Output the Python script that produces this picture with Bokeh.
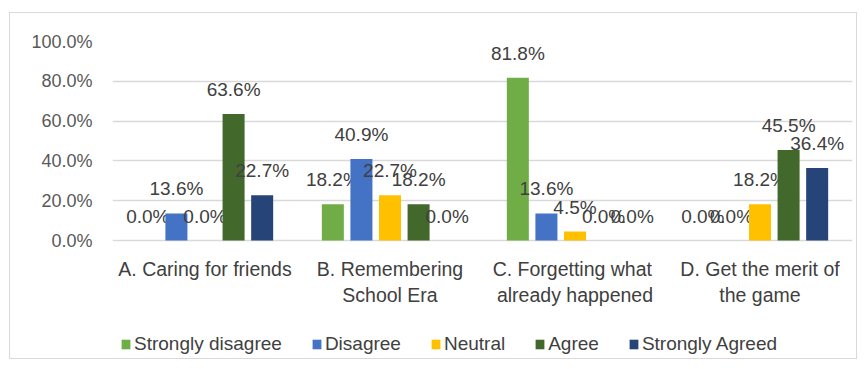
from bokeh.plotting import figure
from bokeh.models import (ColumnDataSource, Legend, LegendItem, FixedTicker,
                          NumeralTickFormatter, Range1d)
from bokeh.core.properties import value
from bokeh.embed import file_html
from bokeh.resources import INLINE

categories = ["A. Caring for friends", "B. Remembering\nSchool Era",
              "C.  Forgetting what\nalready happened", "D. Get the merit of\nthe game"]
series = ["Strongly disagree", "Disagree", "Neutral", "Agree", "Strongly Agreed"]
strongly_disagree = [0.0, 0.182, 0.818, 0.0]
disagree = [0.136, 0.409, 0.136, 0.0]
neutral = [0.0, 0.227, 0.045, 0.182]
agree = [0.636, 0.182, 0.0, 0.455]
strongly_agreed = [0.227, 0.0, 0.0, 0.364]
y_ticks = [0.0, 0.2, 0.4, 0.6, 0.8, 1.0]
colors = ["#70AD47", "#4472C4", "#FFC000", "#43682B", "#264478"]

FONT = "Liberation Sans"
TEXT = "#404040"

# frame extends down to hold category labels and legend; 0 sits 199px below top
FRAME_H = 317
PX_PER_UNIT = 199
p = figure(width=846, height=345, output_backend="svg", toolbar_location=None,
           x_range=Range1d(0, 4),
           y_range=Range1d(1.0 - FRAME_H / PX_PER_UNIT, 1.0),
           min_border_left=102, min_border_right=4, min_border_top=28,
           min_border_bottom=0, outline_line_color=None,
           background_fill_color="white", border_fill_color="white")
p.styles = {"margin-left": "10px", "margin-top": "13px",
            "outline": "1.5px solid #D9D9D9"}

values = [strongly_disagree, disagree, neutral, agree, strongly_agreed]
step = 0.1545
bw = 0.119
items = []
for k, (name, vals, col) in enumerate(zip(series, values, colors)):
    xs = [i + 0.5 + (k - 2) * step for i in range(len(categories))]
    src = ColumnDataSource(dict(x=xs, top=vals,
                                lab=["%.1f%%" % (v * 100) for v in vals]))
    r = p.vbar(x="x", top="top", bottom=0, width=bw, source=src,
               fill_color=col, line_color=None)
    p.text(x="x", y="top", text="lab", source=src, text_align="center",
           text_baseline="bottom", y_offset=-14, text_font=value(FONT),
           text_font_size="19px", text_color=TEXT)
    items.append(LegendItem(label=name, renderers=[r]))

cat_src = ColumnDataSource(dict(x=[i + 0.5 for i in range(len(categories))],
                                y=[0.0] * len(categories), t=categories))
p.text(x="x", y="y", text="t", source=cat_src, text_align="center",
       text_baseline="top", y_offset=17, text_font=value(FONT),
       text_font_size="19.5px", text_color=TEXT, text_line_height=1.2)

p.xaxis.visible = False

p.yaxis.ticker = FixedTicker(ticks=y_ticks)
p.yaxis.formatter = NumeralTickFormatter(format="0.0%")
p.yaxis.major_label_text_font = FONT
p.yaxis.major_label_text_font_size = "18px"
p.yaxis.major_label_text_color = "#595959"
p.yaxis.major_label_standoff = 14
p.yaxis.axis_line_color = None
p.yaxis.major_tick_line_color = None
p.yaxis.minor_tick_line_color = None

p.xgrid.grid_line_color = None
p.ygrid.grid_line_color = "#D9D9D9"
p.ygrid.grid_line_width = 1.5

legend = Legend(items=items, orientation="horizontal", location=(8, 3),
                label_text_font=FONT, label_text_font_size="19px",
                label_text_color=TEXT, glyph_width=11, glyph_height=12,
                label_standoff=3, spacing=29, padding=0, margin=0,
                label_height=20, border_line_color=None,
                background_fill_alpha=0)
p.add_layout(legend, "center")

open("out.html", "w").write(file_html(p, INLINE))
